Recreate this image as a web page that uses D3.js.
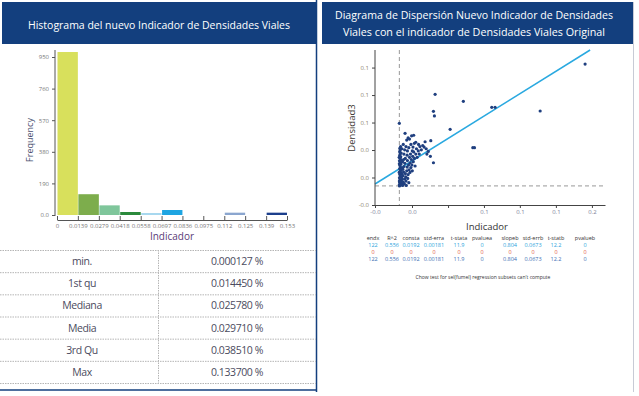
<!DOCTYPE html>
<html><head><meta charset="utf-8">
<script src="https://cdn.jsdelivr.net/npm/d3@7"></script>
<style>
html,body{margin:0;padding:0;background:#fff;}
text{font-family:"Open Sans","Noto Sans",sans-serif;}
</style></head>
<body><svg id="c" width="639" height="396"></svg>
<script>
// ---------- DATA ----------
const histTitle = "Histograma del nuevo Indicador de Densidades Viales";
const scatTitle1 = "Diagrama de Dispersión  Nuevo Indicador de Densidades";
const scatTitle2 = "Viales con el indicador de Densidades Viales Original";
const binEdges = [0, 0.0139, 0.0279, 0.0418, 0.0558, 0.0697, 0.0836, 0.0975, 0.1115, 0.1254, 0.1394, 0.1533];
const binTickLabels = ["0","0.0139","0.0279","0.0418","0.0558","0.0697","0.0836","0.0975","0.112","0.125","0.139","0.153"];
const binCounts = [980, 125, 58, 18, 12, 30, 0, 0, 14, 0, 14];
const binColors = ["#d8e05c","#7dad4c","#7fc69b","#2b8a3c","#a8d8ef","#1ea5e2","#fff","#fff","#8ba6cf","#fff","#1c3f8c"];
const freqTicks = [0, 190, 380, 570, 760, 950];
const freqTickLabels = ["0.0","190","380","570","760","950"];

const statNames = ["min.","1st qu","Mediana","Media","3rd Qu","Max"];
const statValues = ["0.000127 %","0.014450 %","0.025780 %","0.029710 %","0.038510 %","0.133700 %"];

// scatter: [Indicador, Densidad3]
const scatterPts = [
[0.0003,0.0035],[0.0006,0.0050],[0.0009,0.0042],[0.0004,0.0068],[0.0012,0.0075],[0.0007,0.0092],[0.0015,0.0088],
[0.0003,0.0110],[0.0010,0.0125],[0.0018,0.0118],[0.0005,0.0142],[0.0013,0.0155],[0.0021,0.0148],[0.0008,0.0170],
[0.0016,0.0182],[0.0004,0.0195],[0.0011,0.0208],[0.0024,0.0200],[0.0006,0.0225],[0.0014,0.0238],[0.0009,0.0252],
[0.0003,0.0268],[0.0017,0.0275],[0.0007,0.0290],[0.0012,0.0305],[0.0005,0.0320],[0.0010,0.0338],[0.0004,0.0352],
[0.0008,0.0368],[0.0006,0.0385],[0.0011,0.0400],[0.0019,0.0060],[0.0025,0.0040],[0.0022,0.0098],[0.0028,0.0130],
[0.0030,0.0070],[0.0032,0.0165],[0.0027,0.0190],[0.0035,0.0215],[0.0040,0.0100],[0.0038,0.0055],[0.0045,0.0150],
[0.0042,0.0245],[0.0050,0.0080],[0.0048,0.0120],[0.0055,0.0175],[0.0052,0.0040],[0.0058,0.0210],[0.0062,0.0105],
[0.0060,0.0270],[0.0065,0.0140],[0.0068,0.0230],[0.0072,0.0185],[0.0075,0.0300],[0.0070,0.0065],[0.0080,0.0250],
[0.0078,0.0160],[0.0085,0.0205],[0.0082,0.0330],[0.0088,0.0280],[0.0092,0.0230],[0.0095,0.0175],[0.0098,0.0310],
[0.0102,0.0260],[0.0105,0.0350],[0.0110,0.0290],[0.0115,0.0220],[0.0120,0.0330],[0.0125,0.0380],[0.0130,0.0300],
[0.0138,0.0360],[0.0145,0.0330],[0.0150,0.0400],[0.0160,0.0370],[0.0170,0.0410],[0.0180,0.0395],[0.0195,0.0380],
[0.0200,0.0330],[0.0210,0.0355],[0.0225,0.0310],[0.0247,0.0250],[0.0187,0.0445],[0.0228,0.0455],[0.0043,0.0523],
[0.0065,0.0480],[0.0075,0.0470],[0.0090,0.0500],[0.0105,0.0505],[0.0055,0.0460],[0.0120,0.0440],[0.0140,0.0420],
[0.0030,0.0420],[0.0020,0.0380],[0.0035,0.0330],[0.0045,0.0290],[0.0025,0.0260],[0.0060,0.0360],[0.0070,0.0390],
[0.0085,0.0420],[0.0100,0.0395],[0.0110,0.0430],[0.0015,0.0340],[0.0040,0.0370],[0.0050,0.0400],[0.0002,0.0080],
[0.0001,0.0160],[0.0002,0.0240],[0.0001,0.0300],[0.0002,0.0045],[0.0033,0.0280],[0.0058,0.0320],[0.0095,0.0360],
[0.1337,0.1165],[0.0259,0.0885],[0.0462,0.0820],[0.0666,0.0764],[0.0690,0.0764],[0.1014,0.0730],[0.0247,0.0727],
[0.0254,0.0684],[0.0002,0.0616],[0.0367,0.0560],[0.0530,0.0390],[0.0542,0.0390]
];
const regConst = 0.0192, regSlope = 0.804;
const xMinRef = 0.0002, yMinRef = 0.0035;
const xTicks = [-0.0173, 0.0093, 0.0352, 0.0610, 0.0868, 0.1127, 0.1386];
const xTickLabels = ["-0.0","0.0","","0.1","0.1","0.1","0.2"];
const yTicks = [-0.0142, 0.0113, 0.0368, 0.0623, 0.0878, 0.1133];
const yTickLabels = ["-0.0","0.0","0.0","0.1","0.1","0.1"];

const regHeaders = ["endx","R^2","consta","std-erra","t-stata","pvaluea","slopeb","std-errb","t-statb","pvalueb"];
const regRow1 = ["122","0.556","0.0192","0.00181","11.9","0","0.804","0.0673","12.2","0"];
const regRow2 = ["0","0","0","0","0","0","0","0","0","0"];
const regRow3 = ["122","0.556","0.0192","0.00181","11.9","0","0.804","0.0673","12.2","0"];
const regNote = "Chow test for sel(fumel) regression subsets can't compute";

// ---------- DRAW ----------
const svg = d3.select("#c");
const navy = "#133f7e";

// headers
svg.append("rect").attr("x",2).attr("y",2).attr("width",314).attr("height",42).attr("fill",navy);
svg.append("rect").attr("x",322).attr("y",2).attr("width",311).attr("height",42).attr("fill",navy);
svg.append("text").attr("x",159).attr("y",29).attr("text-anchor","middle").attr("fill","#fff")
  .attr("font-size",11).attr("textLength",262).attr("lengthAdjust","spacingAndGlyphs").text(histTitle);
svg.append("text").attr("x",474).attr("y",19).attr("text-anchor","middle").attr("fill","#fff")
  .attr("font-size",11).attr("textLength",278).attr("lengthAdjust","spacingAndGlyphs").text(scatTitle1);
svg.append("text").attr("x",474).attr("y",36).attr("text-anchor","middle").attr("fill","#fff")
  .attr("font-size",11).attr("textLength",262).attr("lengthAdjust","spacingAndGlyphs").text(scatTitle2);

// panel frame lines
svg.append("line").attr("x1",316.5).attr("x2",316.5).attr("y1",0).attr("y2",392).attr("stroke",navy).attr("stroke-width",1.5);
svg.append("line").attr("x1",0).attr("x2",317).attr("y1",390).attr("y2",390).attr("stroke",navy).attr("stroke-width",1.5);
svg.append("line").attr("x1",633.5).attr("x2",633.5).attr("y1",2).attr("y2",392).attr("stroke","#c8cbd6").attr("stroke-width",1);

// ---- histogram ----
const hx = d3.scaleLinear().domain([0, binEdges[binEdges.length-1]]).range([57, 287]);
const hy = d3.scaleLinear().domain([0, 950]).range([215, 57]);
const hg = svg.append("g");
hg.selectAll("rect.bar").data(binCounts).join("rect").attr("class","bar")
  .attr("x",(d,i)=>hx(binEdges[i])+0.5).attr("width",(d,i)=>hx(binEdges[i+1])-hx(binEdges[i])-0.5)
  .attr("y",d=>hy(d)).attr("height",d=>hy(0)-hy(d)).attr("fill",(d,i)=>binColors[i])
  .attr("display",d=>d>0?null:"none");
// y axis
const yAx = d3.axisLeft(hy).tickValues(freqTicks).tickFormat((d,i)=>freqTickLabels[i]).tickSize(3).tickSizeOuter(0);
const yAxG = hg.append("g").attr("transform","translate(55,0)").call(yAx);
yAxG.select(".domain").attr("d","M0,50V216").attr("stroke","#555");
yAxG.selectAll("line").attr("stroke","#555");
yAxG.selectAll("text").attr("font-size",6).attr("fill","#777");
// x axis (ticks upward)
const xAx = d3.axisBottom(hx).tickValues(binEdges).tickFormat((d,i)=>binTickLabels[i]).tickSize(-4).tickSizeOuter(0).tickPadding(6);
const xAxG = hg.append("g").attr("transform","translate(0,220)").call(xAx);
xAxG.select(".domain").attr("stroke","#555");
xAxG.selectAll("line").attr("stroke","#555");
xAxG.selectAll("text").attr("font-size",6).attr("fill","#777").attr("dy","0.3em");
hg.append("text").attr("x",172).attr("y",240).attr("text-anchor","middle").attr("font-size",10).attr("fill","#5a3b78").text("Indicador");
hg.append("text").attr("transform","translate(33,140) rotate(-90)").attr("text-anchor","middle").attr("font-size",9).attr("fill","#4a4f70").text("Frequency");

// ---- stats table ----
const rowY = d3.scaleBand().domain(d3.range(statNames.length)).range([250, 383]);
const tg = svg.append("g");
d3.range(statNames.length+1).forEach(i=>{
  const y = i<statNames.length ? rowY(i) : 383;
  tg.append("line").attr("x1",0).attr("x2",316).attr("y1",y+0.5).attr("y2",y+0.5)
    .attr("stroke","#b5b5b5").attr("stroke-dasharray","1.5,1");
});
tg.append("line").attr("x1",158.5).attr("x2",158.5).attr("y1",250).attr("y2",383).attr("stroke","#b5b5b5").attr("stroke-dasharray","1.5,1");
tg.selectAll("text.n").data(statNames).join("text").attr("class","n")
  .attr("x",82).attr("y",(d,i)=>rowY(i)+rowY.bandwidth()/2+4).attr("text-anchor","middle")
  .attr("font-size",10.5).attr("fill","#4b4b5e").attr("letter-spacing","-0.4").text(d=>d);
tg.selectAll("text.v").data(statValues).join("text").attr("class","v")
  .attr("x",237).attr("y",(d,i)=>rowY(i)+rowY.bandwidth()/2+4).attr("text-anchor","middle")
  .attr("font-size",10.5).attr("fill","#4b4b5e").attr("letter-spacing","-0.4").text(d=>d);

// ---- scatter ----
const sx = d3.scaleLinear().domain([-0.0173, 0.148]).range([375, 605]);
const sy = d3.scaleLinear().domain([-0.0142, 0.1296]).range([205, 50]);
const sg = svg.append("g");
// dashed reference lines
sg.append("line").attr("x1",sx(xMinRef)).attr("x2",sx(xMinRef)).attr("y1",50).attr("y2",205)
  .attr("stroke","#999").attr("stroke-dasharray","4,3").attr("stroke-width",1);
sg.append("line").attr("x1",375).attr("x2",605).attr("y1",sy(yMinRef)).attr("y2",sy(yMinRef))
  .attr("stroke","#999").attr("stroke-dasharray","4,3").attr("stroke-width",1);
// regression line clipped to plot
const xEnd = Math.min(sx.domain()[1], (sy.domain()[1]-regConst)/regSlope);
sg.append("line").attr("x1",sx(sx.domain()[0])).attr("y1",sy(regConst+regSlope*sx.domain()[0]))
  .attr("x2",sx(xEnd)).attr("y2",sy(regConst+regSlope*xEnd))
  .attr("stroke","#2aa9e0").attr("stroke-width",1.5);
// points
sg.selectAll("circle").data(scatterPts).join("circle")
  .attr("cx",d=>sx(d[0])).attr("cy",d=>sy(d[1])).attr("r",1.6).attr("fill","#1f3f7f");
// axes
const syAx = d3.axisLeft(sy).tickValues(yTicks).tickFormat((d,i)=>yTickLabels[i]).tickSize(3).tickSizeOuter(0);
const syG = sg.append("g").attr("transform","translate(375,0)").call(syAx);
syG.select(".domain").attr("d","M0,50V205").attr("stroke","#444");
syG.selectAll("line").attr("stroke","#444");
syG.selectAll("text").attr("font-size",6).attr("fill","#8a7f6e");
const sxAx = d3.axisBottom(sx).tickValues(xTicks).tickFormat((d,i)=>xTickLabels[i]).tickSize(3).tickSizeOuter(0).tickPadding(2);
const sxG = sg.append("g").attr("transform","translate(0,205)").call(sxAx);
sxG.select(".domain").attr("stroke","#444");
sxG.selectAll("line").attr("stroke","#444");
sxG.selectAll("text").attr("font-size",6).attr("fill","#7d7f99");
sg.append("text").attr("x",487).attr("y",230).attr("text-anchor","middle").attr("font-size",9.5).attr("fill","#333").text("Indicador");
sg.append("text").attr("transform","translate(355,128) rotate(-90)").attr("text-anchor","middle").attr("font-size",9.5).attr("fill","#3a3530").text("Densidad3");

// regression table
const colX = [373, 392, 411, 434, 459, 482, 510, 533, 556, 585];
const rg = svg.append("g").attr("font-size",5.5).attr("text-anchor","middle");
const rows = [[regHeaders,"#333",240],[regRow1,"#2a9fdc",247],[regRow2,"#e0553b",254],[regRow3,"#3b6db3",261]];
rows.forEach(([arr,col,y])=>{
  rg.selectAll(null).data(arr).join("text").attr("x",(d,i)=>colX[i]).attr("y",y).attr("fill",col).text(d=>d);
});
rg.append("text").attr("x",483).attr("y",279).attr("fill","#333").attr("font-size",5).text(regNote);
</script></body></html>
